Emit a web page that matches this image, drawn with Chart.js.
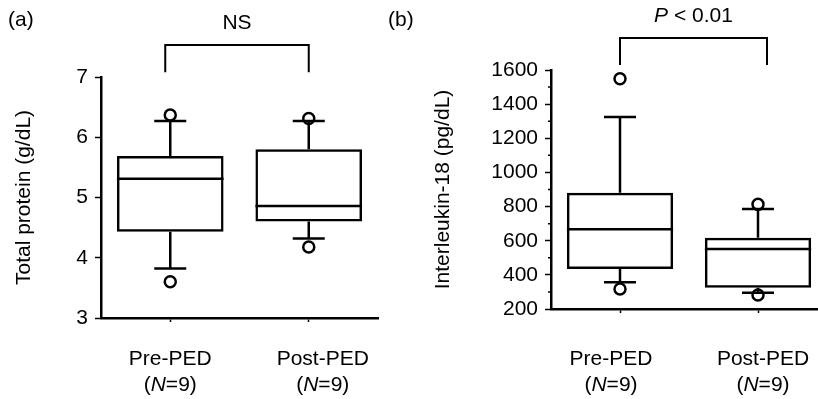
<!DOCTYPE html>
<html>
<head>
<meta charset="utf-8">
<script src="https://cdn.jsdelivr.net/npm/chart.js@4.4.1/dist/chart.umd.min.js"></script>
<style>
  html, body { margin: 0; padding: 0; background: #fff; overflow: hidden; }
  #wrap { position: relative; width: 818px; height: 399px; overflow: hidden; }
  canvas { position: absolute; top: 0; }
  #chartA { left: 0; }
  #chartB { left: 380px; }
</style>
</head>
<body>
<div id="wrap">
  <canvas id="chartA" width="380" height="399"></canvas>
  <canvas id="chartB" width="447" height="399"></canvas>
</div>
<script>
var categories = ['Pre-PED', 'Post-PED'];
var groupN = [9, 9];

// (a) total protein, g/dL
var proteinQ1 = [4.43, 4.60];
var proteinQ3 = [5.69, 5.80];
var proteinMedian = [5.31, 4.86];
var proteinWhiskerLow = [3.82, 4.32];
var proteinWhiskerHigh = [6.27, 6.27];
var proteinOutlierHigh = [6.37, 6.31];
var proteinOutlierLow = [3.60, 4.18];

// (b) interleukin-18, pg/dL
var ilQ1 = [434, 325];
var ilQ3 = [881, 618];
var ilMedian = [667, 551];
var ilWhiskerLow = [356, 295];
var ilWhiskerHigh = [1325, 786];
var ilOutlierHigh = [1549, 813];
var ilOutlierLow = [317, 282];

var FONT = "'Liberation Sans', Arial, sans-serif";
Chart.defaults.font.family = FONT;
Chart.defaults.font.size = 21;
Chart.defaults.color = '#000';

// draws mixed normal / italic text centred on cx
function drawParts(ctx, parts, cx, cy) {
  var total = 0;
  parts.forEach(function (p) {
    ctx.font = (p.italic ? 'italic ' : '') + '21px ' + FONT;
    p.w = ctx.measureText(p.t).width;
    total += p.w;
  });
  var x = cx - total / 2;
  ctx.textAlign = 'left';
  ctx.textBaseline = 'middle';
  parts.forEach(function (p) {
    ctx.font = (p.italic ? 'italic ' : '') + '21px ' + FONT;
    ctx.fillText(p.t, x, cy);
    x += p.w;
  });
}

function boxExtras(s) {
  return {
    id: 'boxExtras',
    afterDatasetsDraw: function (chart) {
      var ctx = chart.ctx, xs = chart.scales.x, ys = chart.scales.y;
      var boxes = chart.getDatasetMeta(0).data;
      ctx.save();
      ctx.strokeStyle = '#000';
      ctx.fillStyle = '#000';
      ctx.lineWidth = 2.5;
      for (var i = 0; i < categories.length; i++) {
        var cx = xs.getPixelForValue(i);
        var half = boxes[i].width / 2;
        var med = ys.getPixelForValue(s.median[i]);
        ctx.beginPath();
        ctx.moveTo(cx - half, med); ctx.lineTo(cx + half, med);
        // whiskers
        var q3 = ys.getPixelForValue(s.q3[i]), hi = ys.getPixelForValue(s.high[i]);
        var q1 = ys.getPixelForValue(s.q1[i]), lo = ys.getPixelForValue(s.low[i]);
        ctx.moveTo(cx, q3); ctx.lineTo(cx, hi);
        ctx.moveTo(cx - 16, hi); ctx.lineTo(cx + 16, hi);
        ctx.moveTo(cx, q1); ctx.lineTo(cx, lo);
        ctx.moveTo(cx - 16, lo); ctx.lineTo(cx + 16, lo);
        ctx.stroke();

        // category labels
        var lx = cx + s.labelShift[i];
        ctx.textAlign = 'center';
        ctx.textBaseline = 'middle';
        ctx.font = '21px ' + FONT;
        ctx.fillText(categories[i], lx, 359);
        drawParts(ctx, [{ t: '(' }, { t: 'N', italic: true }, { t: '=' + groupN[i] + ')' }], lx, 385);
      }

      // minor ticks
      if (s.minor) {
        var ax = chart.chartArea.left;
        ctx.lineWidth = 1.5;
        ctx.beginPath();
        for (var k = 0; k < ys.ticks.length - 1; k++) {
          var py = ys.getPixelForValue((ys.ticks[k].value + ys.ticks[k + 1].value) / 2);
          ctx.moveTo(ax, py); ctx.lineTo(ax - 3, py);
        }
        ctx.stroke();
      }

      // significance bracket
      var x0 = xs.getPixelForValue(0) + s.bracketShift[0], x1 = xs.getPixelForValue(1) + s.bracketShift[1];
      var b0 = ys.getPixelForValue(s.bracket[0]), b1 = ys.getPixelForValue(s.bracket[1]);
      ctx.lineWidth = 2;
      ctx.beginPath();
      ctx.moveTo(x0, b0); ctx.lineTo(x0, b1); ctx.lineTo(x1, b1); ctx.lineTo(x1, b0);
      ctx.stroke();
      drawParts(ctx, s.sigText, (x0 + x1) / 2, b1 - 22);

      // panel letter
      ctx.textAlign = 'left';
      ctx.textBaseline = 'middle';
      ctx.font = '21px ' + FONT;
      ctx.fillText(s.panel, 8, 20);
      ctx.restore();
    }
  };
}

function makeChart(id, cfg) {
  return new Chart(document.getElementById(id), {
    type: 'bar',
    data: {
      labels: categories,
      datasets: [{
        data: cfg.q1.map(function (v, i) { return [v, cfg.q3[i]]; }),
        backgroundColor: 'rgba(0,0,0,0)',
        borderColor: '#000',
        borderWidth: 2.5,
        borderSkipped: false,
        barPercentage: 0.77,
        categoryPercentage: 1
      }, {
        type: 'line',
        data: cfg.outHigh,
        showLine: false,
        pointRadius: 5.5,
        pointBorderWidth: 2.5,
        pointBorderColor: '#000',
        pointBackgroundColor: 'rgba(0,0,0,0)',
        clip: false
      }, {
        type: 'line',
        data: cfg.outLow,
        showLine: false,
        pointRadius: 5.5,
        pointBorderWidth: 2.5,
        pointBorderColor: '#000',
        pointBackgroundColor: 'rgba(0,0,0,0)',
        clip: false
      }]
    },
    options: {
      responsive: false,
      animation: false,
      events: [],
      layout: { padding: cfg.padding, autoPadding: false },
      plugins: { legend: { display: false }, tooltip: { enabled: false } },
      scales: {
        x: {
          offset: true,
          grid: { display: true, drawOnChartArea: false, drawTicks: true, tickLength: 4, offset: false, color: '#000', tickColor: '#000', tickWidth: 1.5 },
          border: { display: true, color: '#000', width: 2.5 },
          ticks: { display: false },
          afterFit: function (s) { s.height = cfg.xHeight; }
        },
        y: {
          min: cfg.range[0],
          max: cfg.range[1],
          ticks: {
            stepSize: cfg.step, padding: 7, color: '#000', font: { size: 21 },
            callback: function (v) { return String(v); }
          },
          grid: { drawOnChartArea: false, tickLength: 6, color: '#000', tickColor: '#000', tickWidth: 1.5 },
          border: { display: true, color: '#000', width: 2.5 },
          title: { display: true, text: cfg.title, color: '#000', font: { size: 21 }, padding: { top: cfg.titlePad, bottom: 0 } },
          afterFit: function (s) { s.width = cfg.yWidth; }
        }
      }
    },
    plugins: [boxExtras({
      q1: cfg.q1, q3: cfg.q3, median: cfg.median, low: cfg.low, high: cfg.high,
      bracket: cfg.bracket, bracketShift: cfg.bracketShift, labelShift: cfg.labelShift,
      sigText: cfg.sigText, panel: cfg.panel, minor: cfg.minor
    })]
  });
}

makeChart('chartA', {
  q1: proteinQ1, q3: proteinQ3, median: proteinMedian,
  low: proteinWhiskerLow, high: proteinWhiskerHigh,
  outHigh: proteinOutlierHigh, outLow: proteinOutlierLow,
  range: [3, 7], step: 1,
  title: 'Total protein (g/dL)', titlePad: 12,
  padding: { top: 77, right: 2, left: 0, bottom: 0 },
  yWidth: 101, xHeight: 81,
  bracket: [7.08, 7.53], bracketShift: [-5, 0], labelShift: [0, 14],
  sigText: [{ t: 'NS' }],
  panel: '(a)', minor: false
});

makeChart('chartB', {
  q1: ilQ1, q3: ilQ3, median: ilMedian,
  low: ilWhiskerLow, high: ilWhiskerHigh,
  outHigh: ilOutlierHigh, outLow: ilOutlierLow,
  range: [200, 1600], step: 200,
  title: 'Interleukin-18 (pg/dL)', titlePad: 51,
  padding: { top: 70, right: 0, left: 0, bottom: 0 },
  yWidth: 171, xHeight: 90,
  bracket: [1629, 1787], bracketShift: [0, 9], labelShift: [-9, 5],
  sigText: [{ t: 'P', italic: true }, { t: ' < 0.01' }],
  panel: '(b)', minor: true
});
</script>
</body>
</html>
